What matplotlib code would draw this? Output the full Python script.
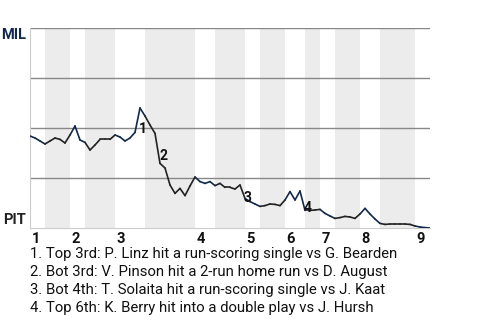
import matplotlib
matplotlib.use('Agg')
import matplotlib.pyplot as plt
import matplotlib.transforms as mtransforms

plt.rcParams['font.family'] = ['Roboto', 'DejaVu Sans']

# MIL win probability (%) after each play
win_prob = [46, 45, 43.5, 42, 43.5, 45, 44.3, 42.5, 46.5, 51,
            44, 42.8, 39, 41.5, 44.3, 44.3, 44.3, 46.5, 45.5, 43.5,
            45, 47.8, 60, 56, 51.5, 47.3, 32.3, 30, 21.5, 17.3,
            19.8, 16.2, 21, 25.5, 23.2, 22.3, 23.2, 21.2, 22.3, 20.3,
            20.3, 19.5, 21.5, 14.8, 13.2, 12, 10.8, 11.2, 12, 11.8,
            11.2, 14, 18.2, 14, 18.5, 8.8, 8.8, 9, 9.3, 7.3,
            6, 4.8, 5.2, 5.8, 5.5, 4.8, 7, 9.8, 7, 4.5,
            2.3, 1.8, 2, 2, 2, 2, 1.8, 1, 0.5, 0.2, 0]
# play index where each half inning ends (top 1, bot 1, top 2, ...)
half_ends = [0, 3, 8, 11, 17, 23, 33, 37, 43, 46, 51, 55, 58, 61, 66, 70, 77, 80]
innings = ['1', '2', '3', '4', '5', '6', '7', '8', '9']
events = ['1. Top 3rd: P. Linz hit a run-scoring single vs G. Bearden',
          '2. Bot 3rd: V. Pinson hit a 2-run home run vs D. August',
          '3. Bot 4th: T. Solaita hit a run-scoring single vs J. Kaat',
          '4. Top 6th: K. Berry hit into a double play vs J. Hursh']
event_plays = [22, 26, 43, 55]
event_offsets = [(2.2, -15), (2.2, 5), (2.2, 0), (2.2, 1.5)]

navy = '#13294b'
dark = '#222222'

fig = plt.figure(figsize=(4.8, 3.2), dpi=100)
ax = fig.add_axes([30/480, 92/320, 400/480, 200/320])

n = len(win_prob) - 1
ax.set_xlim(0, n)
ax.set_ylim(0, 100)

# shaded bottom halves
for i in range(1, len(half_ends) - 1, 2):
    ax.axvspan(half_ends[i], half_ends[i+1], color='#ececec', lw=0, zorder=0)

for y in [25, 50, 75, 100]:
    ax.axhline(y, color='#888888', lw=1, zorder=1)

# line segments coloured by batting team
for k in range(n):
    half = 0
    for i in range(len(half_ends) - 1):
        if half_ends[i] < k + 1 <= half_ends[i+1]:
            half = i
            break
    col = navy if half % 2 == 0 else dark
    ax.plot([k, k + 1], win_prob[k:k+2], color=col, lw=1.2,
            solid_capstyle='round', zorder=3)

for num, p, off in zip(range(1, 5), event_plays, event_offsets):
    ax.annotate(str(num), (p, win_prob[p]), xytext=off, textcoords='offset points',
                ha='center', va='center', fontsize=10, fontweight='bold',
                color='#111111', zorder=4)

trans = mtransforms.blended_transform_factory(ax.transData, ax.transAxes)
for lab, x in zip(innings, half_ends[0::2]):
    ax.text(x + 0.3, -0.055, lab, transform=trans, ha='left', va='center',
            fontsize=10.5, fontweight='bold', color='#111111')

for s in ['top', 'right']:
    ax.spines[s].set_visible(False)
ax.spines['left'].set_color('#cccccc')
ax.spines['bottom'].set_color('#cccccc')
ax.set_xticks([])
ax.set_yticks([])

fig.text(26/480, 1 - 35/320, 'MIL', ha='right', va='center', fontsize=10.5,
         fontweight='bold', color=navy)
fig.text(26/480, 1 - 220/320, 'PIT', ha='right', va='center', fontsize=10.5,
         fontweight='bold', color=dark)

for i, t in enumerate(events):
    fig.text(30/480, 1 - (254 + 18*i)/320, t, ha='left', va='center',
             fontsize=10.75, color='#111111')

fig.savefig('out.png', dpi=100)
